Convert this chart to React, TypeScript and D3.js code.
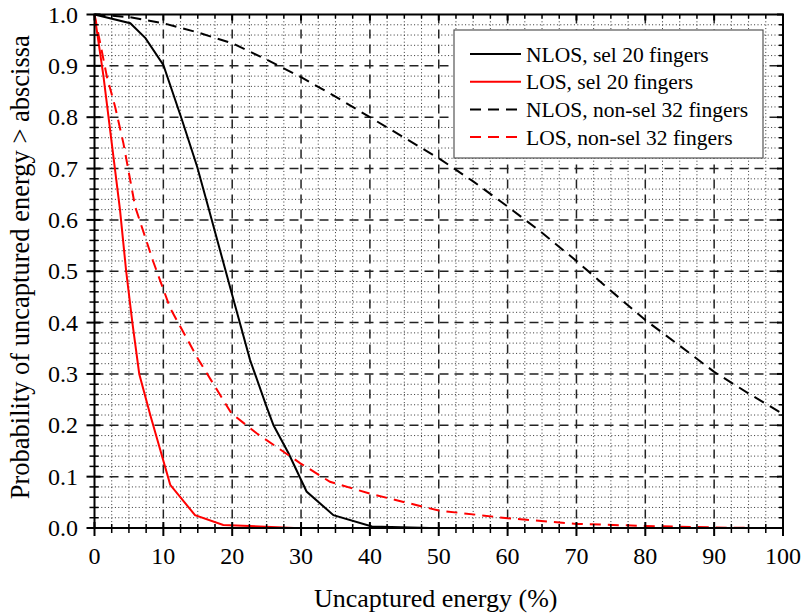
import React from "react";
import * as d3 from "d3";

const W = 806, H = 616;
const M = { left: 94.5, right: 783, top: 14.5, bottom: 528 };

const xTicks = [0, 10, 20, 30, 40, 50, 60, 70, 80, 90, 100];
const yTicks = [0, 0.1, 0.2, 0.3, 0.4, 0.5, 0.6, 0.7, 0.8, 0.9, 1.0];

const nlosSelX = [0, 5.2, 7.4, 10, 12.7, 14.9, 16.5, 20.2, 22.6, 25, 26, 28.2, 30.8, 34.7, 40.3, 48.7];
const nlosSelY = [1.0, 0.983, 0.954, 0.902, 0.795, 0.704, 0.626, 0.444, 0.327, 0.236, 0.2, 0.145, 0.071, 0.025, 0.003, 0];

const losSelX = [0, 1.3, 2.5, 3.7, 4.6, 5.5, 6.5, 8.1, 11, 14.6, 18.7, 29];
const losSelY = [1.0, 0.88, 0.75, 0.62, 0.5, 0.4, 0.3, 0.22, 0.084, 0.025, 0.006, 0];

const nlosNonX = [0, 5, 10, 15, 20, 25, 30, 35, 40, 45, 50, 55, 60, 65, 70, 75, 80, 85, 90, 95, 100];
const nlosNonY = [1.0, 0.995, 0.983, 0.965, 0.944, 0.912, 0.878, 0.84, 0.8, 0.76, 0.72, 0.675, 0.626, 0.575, 0.52, 0.462, 0.405, 0.355, 0.304, 0.262, 0.222];

const losNonX = [0, 1.8, 3, 4.2, 5.9, 8.5, 11, 15, 19.9, 23.6, 29.9, 34.2, 40, 43.6, 50, 60, 70, 80, 90, 96];
const losNonY = [1.0, 0.879, 0.82, 0.749, 0.626, 0.52, 0.428, 0.33, 0.223, 0.184, 0.126, 0.09, 0.067, 0.055, 0.034, 0.019, 0.008, 0.004, 0.001, 0];

const legendLabels = ["NLOS, sel 20 fingers", "LOS, sel 20 fingers", "NLOS, non-sel 32 fingers", "LOS, non-sel 32 fingers"];
const seriesColors = ["#000000", "#ff0000", "#000000", "#ff0000"];
const seriesDashed = [false, false, true, true];

const TXT = { fontFamily: '"Liberation Serif"' };

export default function App() {
  const x = d3.scaleLinear().domain([0, 100]).range([M.left, M.right]);
  const y = d3.scaleLinear().domain([0, 1]).range([M.bottom, M.top]);
  const line = d3.line<[number, number]>().x(d => x(d[0])).y(d => y(d[1]));

  const series = [
    [nlosSelX, nlosSelY],
    [losSelX, losSelY],
    [nlosNonX, nlosNonY],
    [losNonX, losNonY],
  ].map(([xs, ys]) => xs.map((v, i) => [v, ys[i]] as [number, number]));

  const xMinor = d3.range(0, 100.001, 2.5).filter(v => Math.abs(v % 10) > 0.01);
  const yMinor = d3.range(0, 1.0001, 0.02).map(v => +v.toFixed(2)).filter(v => Math.abs(Math.round(v * 10) - v * 10) > 0.01);

  const legX = 454, legY = 30, legW = 309, legH = 128;

  return (
    <svg width={W} height={H} style={{ position: "absolute", left: 0, top: 0, background: "#fff" }}>
      <rect x={0} y={0} width={W} height={H} fill="#fff" />
      {/* minor grid */}
      {xMinor.map(v => (
        <line key={"xm" + v} x1={x(v)} x2={x(v)} y1={M.top} y2={M.bottom} stroke="#333" strokeWidth={1} strokeDasharray="1,2.4" />
      ))}
      {yMinor.map(v => (
        <line key={"ym" + v} x1={M.left} x2={M.right} y1={y(v)} y2={y(v)} stroke="#333" strokeWidth={1} strokeDasharray="1,2.4" />
      ))}
      {/* major grid */}
      {xTicks.slice(1, -1).map(v => (
        <line key={"xg" + v} x1={x(v)} x2={x(v)} y1={M.top} y2={M.bottom} stroke="#222" strokeWidth={1.5} strokeDasharray="9,6" />
      ))}
      {yTicks.slice(1, -1).map(v => (
        <line key={"yg" + v} x1={M.left} x2={M.right} y1={y(v)} y2={y(v)} stroke="#222" strokeWidth={1.5} strokeDasharray="9,6" />
      ))}
      {/* series */}
      {series.map((s, i) => (
        <path key={"s" + i} d={line(s) || ""} fill="none" stroke={seriesColors[i]} strokeWidth={2}
          strokeDasharray={seriesDashed[i] ? "11,7" : undefined} />
      ))}
      {/* legend */}
      <rect x={legX} y={legY} width={legW} height={legH} fill="#fff" stroke="#555" strokeWidth={1.2} />
      {legendLabels.map((lab, i) => {
        const cy = 54 + i * 27.7;
        return (
          <g key={"lg" + i}>
            <line x1={470} x2={521} y1={cy} y2={cy} stroke={seriesColors[i]} strokeWidth={2}
              strokeDasharray={seriesDashed[i] ? "11,7" : undefined} />
            <text x={526} y={cy + 7.5} fontSize={21.5} fill="#000" style={TXT}>{lab}</text>
          </g>
        );
      })}
      {/* frame */}
      <rect x={M.left} y={M.top} width={M.right - M.left} height={M.bottom - M.top} fill="none" stroke="#000" strokeWidth={2} />
      {/* ticks */}
      {xTicks.map(v => (
        <g key={"xt" + v}>
          <line x1={x(v)} x2={x(v)} y1={M.bottom - 6} y2={M.bottom + 8} stroke="#000" strokeWidth={2} />
          <line x1={x(v)} x2={x(v)} y1={M.top} y2={M.top + 6} stroke="#000" strokeWidth={2} />
          <text x={x(v)} y={564} textAnchor="middle" fontSize={24} fill="#000" style={TXT}>{v}</text>
        </g>
      ))}
      {xMinor.map(v => (
        <g key={"xmt" + v}>
          <line x1={x(v)} x2={x(v)} y1={M.bottom - 4} y2={M.bottom + 5} stroke="#000" strokeWidth={1.5} />
          <line x1={x(v)} x2={x(v)} y1={M.top} y2={M.top + 4} stroke="#000" strokeWidth={1.5} />
        </g>
      ))}
      {yTicks.map(v => (
        <g key={"yt" + v}>
          <line x1={M.left - 8} x2={M.left + 6} y1={y(v)} y2={y(v)} stroke="#000" strokeWidth={2} />
          <line x1={M.right - 6} x2={M.right} y1={y(v)} y2={y(v)} stroke="#000" strokeWidth={2} />
          <text x={78} y={y(v) + 8} textAnchor="end" fontSize={24} fill="#000" style={TXT}>{v.toFixed(1)}</text>
        </g>
      ))}
      {yMinor.map(v => (
        <g key={"ymt" + v}>
          <line x1={M.left - 5} x2={M.left + 4} y1={y(v)} y2={y(v)} stroke="#000" strokeWidth={1.5} />
          <line x1={M.right - 4} x2={M.right} y1={y(v)} y2={y(v)} stroke="#000" strokeWidth={1.5} />
        </g>
      ))}
      {/* axis titles */}
      <text x={(M.left + M.right) / 2 - 3} y={607} textAnchor="middle" fontSize={26} fill="#000" style={TXT}>Uncaptured energy (%)</text>
      <text transform={`translate(29, ${(M.top + M.bottom) / 2 - 4}) rotate(-90)`} textAnchor="middle" fontSize={26.5} fill="#000" style={TXT}>
        Probability of uncaptured energy &gt; abscissa
      </text>
    </svg>
  );
}
